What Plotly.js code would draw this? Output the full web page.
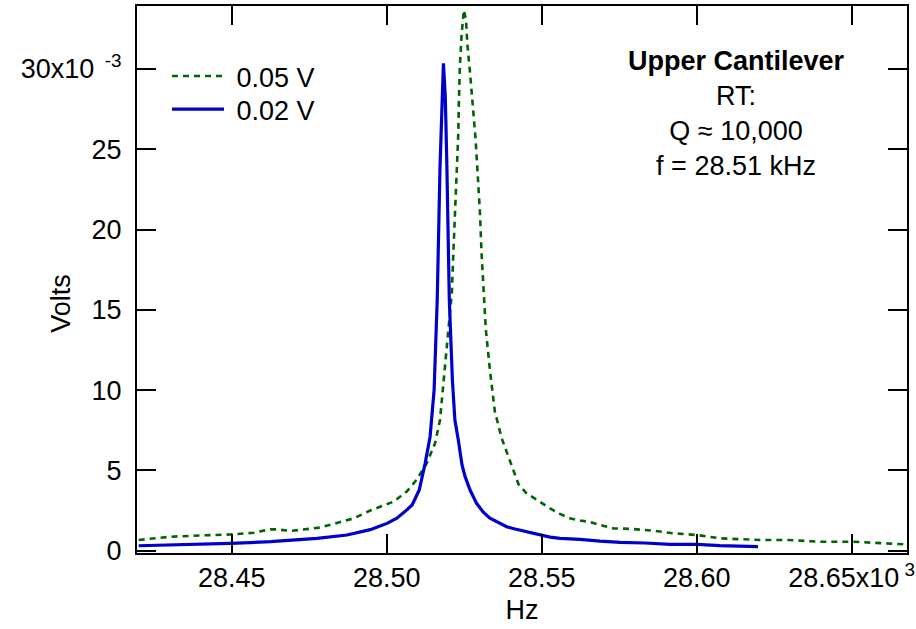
<!DOCTYPE html>
<html>
<head>
<meta charset="utf-8">
<script src="https://cdn.plot.ly/plotly-3.0.1.min.js"></script>
<style>
  html, body { margin: 0; padding: 0; background: #fff; }
  #chart { width: 916px; height: 629px; }
</style>
</head>
<body>
<div id="chart"></div>
<script>
// Frequency (Hz) and amplitude (values in units of 1e-3 V)
const hz002 = [28420.0, 28430.2, 28439.8, 28449.5, 28462.5, 28477.5, 28487.2, 28494.7, 28500.1, 28503.3,
  28506.5, 28508.2, 28510.5, 28512.4, 28514.0, 28515.3, 28516.3, 28517.2, 28518.3, 28518.9,
  28519.4, 28520.2, 28521.2, 28522.0, 28523.1, 28524.3, 28525.3, 28526.9, 28529.0, 28531.1,
  28533.3, 28535.9, 28538.7, 28541.4, 28544.1, 28546.5, 28549.5, 28552.7, 28555.9, 28562.4,
  28568.8, 28575.3, 28583.3, 28591.4, 28600.1, 28607.5, 28619.8];
const v002 = [0.31, 0.35, 0.39, 0.46, 0.56, 0.77, 0.98, 1.31, 1.70, 2.02,
  2.54, 2.85, 3.78, 5.44, 7.10, 10.01, 15.61, 23.90, 30.35, 28.27,
  24.12, 15.61, 10.63, 8.14, 6.89, 5.34, 4.61, 3.78, 2.95, 2.41,
  2.02, 1.79, 1.49, 1.35, 1.23, 1.10, 0.98, 0.85, 0.77, 0.71,
  0.60, 0.52, 0.48, 0.39, 0.39, 0.32, 0.26];

const hz005 = [28420.0, 28430.2, 28439.8, 28449.5, 28457.1, 28462.4, 28464.6, 28468.9, 28478.5, 28484.0,
  28489.4, 28494.7, 28499.0, 28502.3, 28506.5, 28509.7, 28512.9, 28515.6, 28517.2, 28518.8,
  28519.9, 28521.0, 28521.5, 28522.0, 28522.6, 28523.1, 28523.3, 28523.6, 28524.2, 28524.9,
  28525.6, 28526.0, 28526.9, 28527.9, 28528.7, 28529.4, 28530.1, 28530.6, 28531.4, 28532.0,
  28533.3, 28534.9, 28537.1, 28539.8, 28542.5, 28545.0, 28547.3, 28549.5, 28552.7, 28555.9,
  28559.1, 28562.4, 28565.6, 28568.8, 28573.1, 28578.5, 28586.0, 28592.5, 28600.0, 28607.5,
  28612.9, 28620.4, 28629.0, 28639.8, 28650.5, 28661.3, 28667.7];
const v005 = [0.67, 0.87, 0.95, 1.01, 1.12, 1.33, 1.33, 1.23, 1.44, 1.71,
  2.02, 2.50, 2.81, 3.06, 3.69, 4.43, 5.44, 6.69, 8.14, 11.46,
  13.54, 16.03, 18.52, 20.80, 23.08, 25.99, 28.06, 30.14, 32.22, 33.67,
  33.04, 31.59, 29.73, 27.65, 25.57, 23.29, 21.01, 18.52, 15.82, 13.74,
  11.25, 8.66, 7.00, 5.52, 4.15, 3.59, 3.31, 3.00, 2.64, 2.29,
  2.02, 1.88, 1.79, 1.60, 1.39, 1.36, 1.25, 1.08, 0.98, 0.77,
  0.74, 0.67, 0.67, 0.56, 0.56, 0.46, 0.39];

const seriesNames = ['0.05 V', '0.02 V'];
const xTickVals = [28450, 28500, 28550, 28600, 28650];
const xTickText = ['28.45', '28.50', '28.55', '28.60', '28.65x10<sup>\u00a03</sup>'];
const yTickVals = [0, 5, 10, 15, 20, 25, 30];
const yTickText = ['0', '5', '10', '15', '20', '25', '30x10<sup>\u00a0\u00a0-3</sup>'];

const FONT = 'Liberation Sans, Arial, Helvetica, sans-serif';
const FS = 27;
const PAD = '\u00a0';

const traces = [
  { x: hz005, y: v005, name: PAD + seriesNames[0], type: 'scatter', mode: 'lines', legend: 'legend',
    line: { color: '#006400', width: 2.6, dash: '6px,5px' } },
  { x: hz002, y: v002, name: PAD + seriesNames[1], type: 'scatter', mode: 'lines', legend: 'legend2',
    line: { color: '#0000cc', width: 3.2 } }
];

const axisCommon = {
  showgrid: false, zeroline: false,
  showline: true, linecolor: '#000', linewidth: 2,
  mirror: 'ticks', ticks: 'inside', ticklen: 19, tickwidth: 2, tickcolor: '#000',
  tickfont: { family: FONT, size: FS, color: '#000' },
  tickmode: 'array', ticklabeloverflow: 'allow'
};

const legendCommon = {
  x: 0.039, xanchor: 'left', yanchor: 'top',
  bgcolor: 'rgba(0,0,0,0)', borderwidth: 0,
  font: { family: FONT, size: FS, color: '#000' },
  itemwidth: 52
};

const layout = {
  width: 916, height: 629,
  margin: { l: 137, r: 9, t: 6, b: 76, pad: 0 },
  paper_bgcolor: '#fff', plot_bgcolor: '#fff',
  font: { family: FONT, size: FS, color: '#000' },
  showlegend: true,
  legend: Object.assign({}, legendCommon, { y: 0.916 }),
  legend2: Object.assign({}, legendCommon, { y: 0.8556 }),
  xaxis: Object.assign({}, axisCommon, {
    range: [28419.45, 28667.85],
    tickvals: xTickVals, ticktext: xTickText,
    title: { text: 'Hz', font: { family: FONT, size: FS, color: '#000' }, standoff: 8 }
  }),
  yaxis: Object.assign({}, axisCommon, {
    range: [-0.143, 33.92],
    tickvals: yTickVals, ticktext: yTickText,
    ticklabelstandoff: 8
  }),
  annotations: [
    { xref: 'paper', yref: 'paper', x: 0.778, y: 0.804, xanchor: 'center', yanchor: 'middle',
      showarrow: false, align: 'center',
      text: '<b>Upper Cantilever</b><br>RT:<br>Q ≈ 10,000<br>f = 28.51 kHz',
      font: { family: FONT, size: FS, color: '#000' } },
    { xref: 'paper', yref: 'paper', x: -0.099, y: 0.457, xanchor: 'center', yanchor: 'middle',
      showarrow: false, textangle: -90, text: 'Volts',
      font: { family: FONT, size: FS, color: '#000' } }
  ]
};

Plotly.newPlot('chart', traces, layout, { staticPlot: true, displayModeBar: false });
</script>
</body>
</html>
